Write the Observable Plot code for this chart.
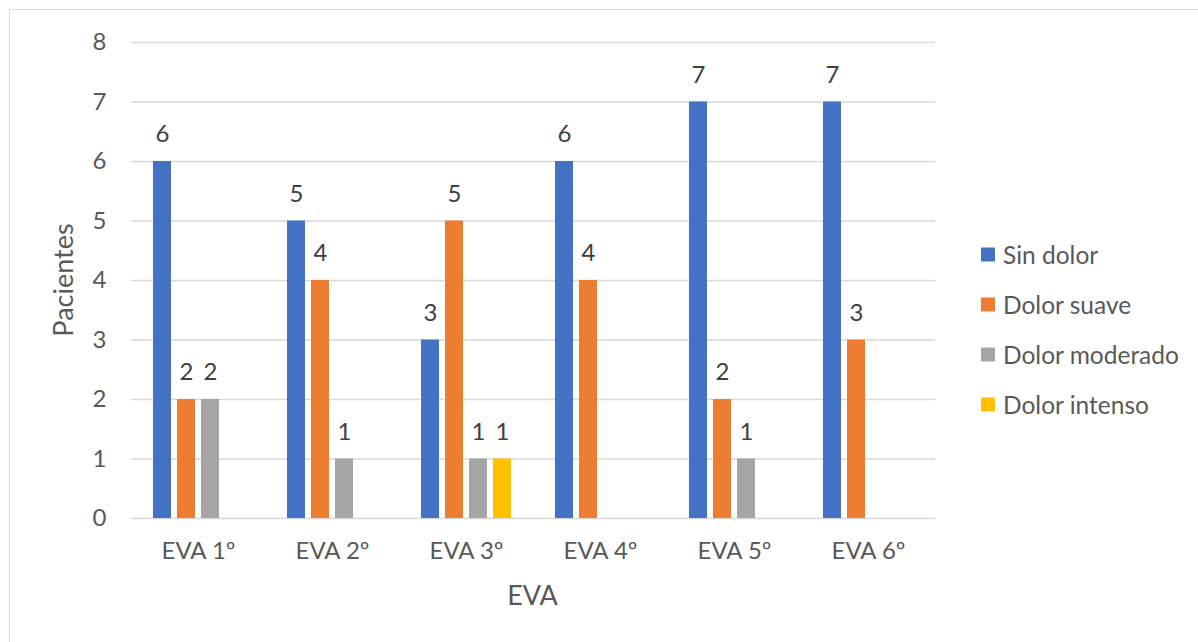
<!DOCTYPE html>
<html>
<head>
<meta charset="utf-8">
<script src="https://cdn.jsdelivr.net/npm/d3@7"></script>
<script src="https://cdn.jsdelivr.net/npm/@observablehq/plot@0.6"></script>
<style>
  html, body { margin: 0; padding: 0; background: #fff; }
  #wrap { position: relative; width: 1198px; height: 642px; overflow: hidden; font-family: Lato, "Open Sans", sans-serif; color: #595959; }
  #frame { position: absolute; left: 9px; top: 9px; width: 1400px; height: 900px; border: 1.5px solid #d9d9d9; box-sizing: border-box; }
  #chart { position: absolute; left: 0; top: 0; }
  .title { position: absolute; font-size: 27px; white-space: nowrap; line-height: 1.2; }
  #xtitle { left: 532.5px; top: 595px; transform: translate(-50%, -50%); }
  #ytitle { left: 63px; top: 280px; transform: translate(-50%, -50%) rotate(-90deg); }
  #legend { position: absolute; left: 981px; top: 0; font-size: 24.5px; }
  .item { position: absolute; left: 0; display: flex; align-items: center; white-space: nowrap; transform: translateY(-50%); }
  .sw { width: 14px; height: 14px; margin-right: 8px; flex: none; }
</style>
</head>
<body>
<div id="wrap">
  <div id="frame"></div>
  <div id="chart"></div>
  <div id="xtitle" class="title">EVA</div>
  <div id="ytitle" class="title">Pacientes</div>
  <div id="legend"></div>
</div>
<script>
// ---- data ----
const groups = ["EVA 1º", "EVA 2º", "EVA 3º", "EVA 4º", "EVA 5º", "EVA 6º"];
const series = ["Sin dolor", "Dolor suave", "Dolor moderado", "Dolor intenso"];
const sinDolor = [6, 5, 3, 6, 7, 7];
const dolorSuave = [2, 4, 5, 4, 2, 3];
const dolorModerado = [2, 1, 1, 0, 1, 0];
const dolorIntenso = [0, 0, 1, 0, 0, 0];
const yTicks = [0, 1, 2, 3, 4, 5, 6, 7, 8];
const colors = ["#4472C4", "#ED7D31", "#A5A5A5", "#FFC000"];

const seriesValues = [sinDolor, dolorSuave, dolorModerado, dolorIntenso];
const rows = [];
groups.forEach((g, i) => {
  series.forEach((s, j) => {
    rows.push({group: g, series: s, value: seriesValues[j][i]});
  });
});
const shown = rows.filter(d => d.value > 0);

const chart = Plot.plot({
  width: 1198,
  height: 642,
  marginLeft: 130,
  marginRight: 263,
  marginTop: 42,
  marginBottom: 124,
  style: {fontFamily: "Lato, 'Open Sans', sans-serif", fontSize: "24px", color: "#595959", background: "transparent", overflow: "visible"},
  fx: {domain: groups, padding: 0, label: null},
  x: {domain: series, paddingInner: 0.234, paddingOuter: 0.867, axis: null},
  y: {domain: [0, 8], axis: null},
  color: {domain: series, range: colors},
  marks: [
    Plot.gridY(yTicks, {stroke: "#d9d9d9", strokeOpacity: 1, strokeWidth: 1.5}),
    Plot.barY(shown, {fx: "group", x: "series", y: "value", fill: "series"}),
    Plot.text(shown, {fx: "group", x: "series", y: "value", text: d => String(d.value), dy: -27, fill: "#404040", fontSize: 24}),
    Plot.axisY(yTicks, {tickSize: 0, tickPadding: 25, fontSize: 24, label: null, fill: "#595959", tickFormat: d => String(d)}),
    Plot.axisFx({anchor: "bottom", tickSize: 0, tickPadding: 23, fontSize: 24, label: null, fill: "#595959"})
  ]
});
document.getElementById("chart").appendChild(chart);

// legend
const legendY = [254, 304, 354, 404];
const legend = document.getElementById("legend");
series.forEach((s, i) => {
  const item = document.createElement("div");
  item.className = "item";
  item.style.top = legendY[i] + "px";
  const sw = document.createElement("span");
  sw.className = "sw";
  sw.style.background = colors[i];
  const label = document.createElement("span");
  label.textContent = s;
  item.appendChild(sw);
  item.appendChild(label);
  legend.appendChild(item);
});
</script>
</body>
</html>
